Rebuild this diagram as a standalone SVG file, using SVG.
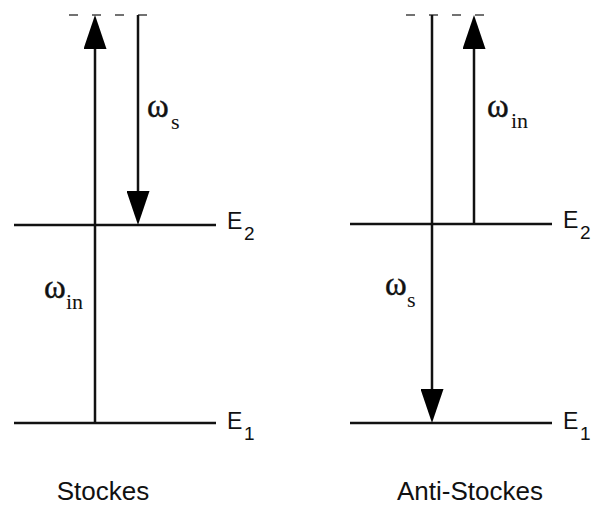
<svg xmlns="http://www.w3.org/2000/svg" width="592" height="507" viewBox="0 0 592 507">
<style>
.lvl{stroke:#111;stroke-width:2.5;fill:none}
.arr{stroke:#111;stroke-width:2.5;fill:none}
.dash{stroke:#444;stroke-width:1.6;stroke-dasharray:9 14;fill:none}
.e{font-family:"Liberation Sans",Arial,sans-serif;font-size:23px;fill:#111}
.esub{font-family:"Liberation Sans",Arial,sans-serif;font-size:19px;fill:#111}
.w{font-family:"Liberation Serif","Times New Roman",serif;font-size:33px;fill:#111;stroke:#111;stroke-width:0.4}
.wsub{font-family:"Liberation Serif","Times New Roman",serif;font-size:22px;fill:#111}
.cap{font-family:"Liberation Sans",Arial,sans-serif;font-size:26px;fill:#111;text-anchor:middle}
</style>
<defs>
<marker id="ah" markerUnits="userSpaceOnUse" markerWidth="34" markerHeight="23" refX="0" refY="11.5" orient="auto" viewBox="0 0 34 23">
<path d="M0,0 L34,11.5 L0,23 Z" fill="#000"/>
</marker>
</defs>
<rect width="592" height="507" fill="#fff"/>
<g id="levels">
<g id="stokes-E2"><line class="lvl" x1="14" y1="225" x2="216" y2="225"/><text class="e" x="227" y="229">E</text><text class="esub" x="244" y="240">2</text></g>
<g id="stokes-E1"><line class="lvl" x1="14" y1="423" x2="216" y2="423"/><text class="e" x="227" y="429">E</text><text class="esub" x="244" y="440">1</text></g>
<g id="anti-E2"><line class="lvl" x1="350" y1="224" x2="552" y2="224"/><text class="e" x="563" y="228">E</text><text class="esub" x="580" y="239">2</text></g>
<g id="anti-E1"><line class="lvl" x1="350" y1="423" x2="552" y2="423"/><text class="e" x="563" y="429">E</text><text class="esub" x="580" y="440">1</text></g>
<g id="stokes-virtual"><line class="dash" x1="69" y1="15" x2="148" y2="15"/></g>
<g id="anti-virtual"><line class="dash" x1="406" y1="15" x2="485" y2="15"/></g>
</g>
<g id="connectors">
<line class="arr" x1="95" y1="423" x2="95" y2="49" marker-end="url(#ah)"/>
<line class="arr" x1="138" y1="15" x2="138" y2="191" marker-end="url(#ah)"/>
<line class="arr" x1="432" y1="15" x2="432" y2="389" marker-end="url(#ah)"/>
<line class="arr" x1="474" y1="224" x2="474" y2="49" marker-end="url(#ah)"/>
</g>
<g id="labels">
<text class="w" x="147" y="117">ω</text><text class="wsub" x="171" y="129">s</text>
<text class="w" x="44" y="298">ω</text><text class="wsub" x="66" y="309">in</text>
<text class="w" x="487" y="117">ω</text><text class="wsub" x="511" y="128">in</text>
<text class="w" x="385" y="295">ω</text><text class="wsub" x="407" y="307">s</text>
<text class="cap" x="103" y="500">Stockes</text>
<text class="cap" x="470" y="500">Anti-Stockes</text>
</g>
</svg>
